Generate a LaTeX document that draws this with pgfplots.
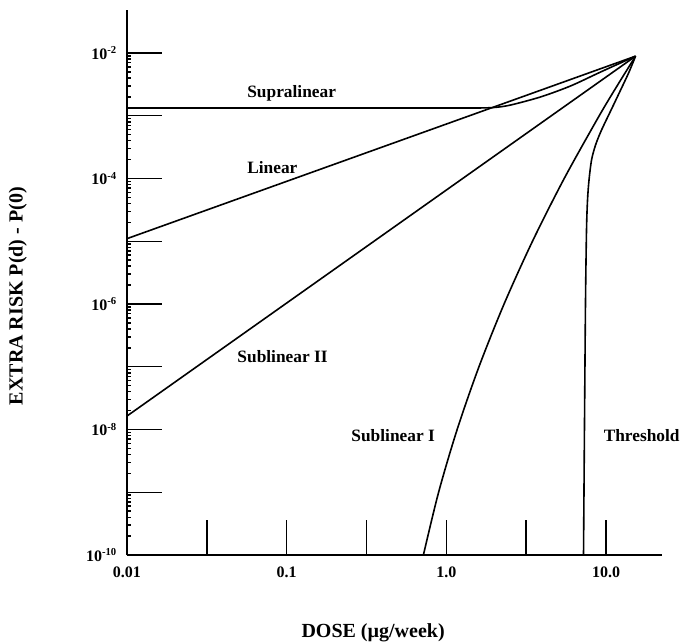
\documentclass[border=0pt]{standalone}
\usepackage{pgfplots}
\pgfplotsset{compat=1.18}
\usepackage{fontspec}
\setmainfont{Liberation Serif}
\begin{document}
\begin{tikzpicture}
\path[use as bounding box] (-95.25pt,-66pt) rectangle (414.75pt,416.25pt);
\begin{loglogaxis}[
  scale only axis, width=401.25pt, height=408.75pt,
  xmin=0.01, xmax=22.4, ymin=1e-10, ymax=0.0484,
  axis lines=left, axis line style={-, line width=1.1pt},
  xtick={0.01,0.0316,0.1,0.316,1,3.16,10},
  xticklabels={0.01,,0.1,,1.0,,10.0},
  ytick={1e-10,1e-9,1e-8,1e-7,1e-6,1e-5,1e-4,1e-3,1e-2},
  yticklabels={10\textsuperscript{-10},,10\textsuperscript{-8},,10\textsuperscript{-6},,10\textsuperscript{-4},,10\textsuperscript{-2}},
  minor xtick={}, minor ytick={},
  tick align=inside, major tick length=26pt,
  tick style={line width=1.1pt, black},
  xticklabel style={font=\bfseries\fontsize{12}{14}\selectfont, yshift=-5pt},
  yticklabel style={font=\bfseries\fontsize{12}{14}\selectfont, xshift=-4pt},
  xlabel={DOSE (µg/week)},
  ylabel={EXTRA RISK P(d) - P(0)},
  xlabel style={font=\bfseries\fontsize{15}{17}\selectfont, at={(axis description cs:0.46,-0.143)}, anchor=center},
  ylabel style={font=\bfseries\fontsize{15}{17}\selectfont, at={(axis description cs:-0.204,0.475)}, anchor=center, rotate=0},
  clip=false,
]
% Supralinear
\addplot[black, line width=1.2pt] coordinates {(0.01,1.33e-3) (1.63,1.33e-3)};
\addplot[black, line width=1.2pt, smooth, tension=0.5] coordinates {(1.0,1.33e-3) (1.63,1.33e-3) (2.03,1.36e-3) (2.52,1.48e-3) (3.88,1.99e-3) (5.99,2.98e-3) (9.25,4.98e-3) (15.3,8.9e-3)};
% Linear
\addplot[black, line width=1.2pt] coordinates {(0.01,1.1e-5) (15.3,8.9e-3)};
% Sublinear II
\addplot[black, line width=1.2pt] coordinates {(0.01,1.64e-8) (15.3,8.9e-3)};
% Sublinear I
\addplot[black, line width=1.2pt, smooth, tension=0.5] coordinates {(0.718,1e-10) (0.894,1e-9) (1.168,1e-8) (1.600,1e-7) (2.298,1e-6) (3.462,1e-5) (5.469,1e-4) (9.062,1e-3) (11.88,3.16e-3) (15.3,8.9e-3)};
% Threshold
\addplot[black, line width=1.2pt, smooth, tension=0.5] coordinates {(7.224,1e-10) (7.331,1.42e-8) (7.437,1.16e-6) (7.544,1.51e-5) (7.655,4.54e-5) (7.822,9.46e-5) (8.110,1.97e-4) (8.595,3.42e-4) (9.371,5.93e-4) (10.98,1.38e-3) (12.33,2.57e-3) (13.84,4.80e-3) (15.3,8.9e-3)};
\begin{scope}[font=\bfseries\fontsize{13}{15}\selectfont]
\node[anchor=west, inner sep=0pt] at (axis cs:0.0565,2.31e-3) {Supralinear};
\node[anchor=west, inner sep=0pt] at (axis cs:0.0565,1.52e-4) {Linear};
\node[anchor=west, inner sep=0pt] at (axis cs:0.049,1.43e-7) {Sublinear II};
\node[anchor=west, inner sep=0pt] at (axis cs:0.2535,7.87e-9) {Sublinear I};
\node[anchor=west, inner sep=0pt] at (axis cs:9.64,7.87e-9) {Threshold};
\end{scope}
\end{loglogaxis}
\end{tikzpicture}
\end{document}
